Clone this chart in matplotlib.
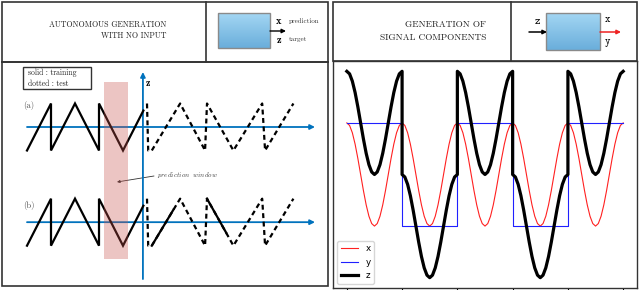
import numpy as np
import matplotlib
matplotlib.use('Agg')
import matplotlib.pyplot as plt
from matplotlib.patches import Rectangle
from matplotlib.colors import LinearSegmentedColormap

plt.rcParams['mathtext.fontset'] = 'cm'

# ---------------- data: right panel (signal components) ----------------
x_period = [1.0, 0.951, 0.809, 0.588, 0.309, 0.0, -0.309, -0.588, -0.809, -0.951, -1.0,
            -0.951, -0.809, -0.588, -0.309, 0.0, 0.309, 0.588, 0.809, 0.951, 1.0]
y_levels = [1, -1, 1, -1, 1]
period_ticks = [0, 1, 2, 3, 4, 5]
series_labels = ['x', 'y', 'z']

# ---------------- data: left schematic (sawtooth) ----------------
train_t = [-5, -4, -4, -3, -2, -2, -1, -0.15]
train_v = [-1, 1, -1, 1, -1, 1, -1, 0.7]
test_t = [0, 0.05, 0.2, 1.38, 2.42, 2.5, 3.6, 4.8, 4.92, 6.1]
test_v = [1, -1, -1, 1, -1, 1, -1, 1, -1, 1]
b_solid_t = [[0.2, 1.1], [2.5, 3.3]]
b_solid_v = [[-1, 0.53], [1, -0.45]]

W, H = 640, 290
fig = plt.figure(figsize=(6.4, 2.9), dpi=100)

# pixel-coordinate overlay for frames and headers
ax0 = fig.add_axes([0, 0, 1, 1])
ax0.set_xlim(0, W)
ax0.set_ylim(H, 0)
ax0.axis('off')

frame_c = '#333333'
# left panel frames
ax0.add_patch(Rectangle((2, 2), 326, 284, fill=False, ec=frame_c, lw=1.2))
ax0.plot([2, 328], [62, 62], color=frame_c, lw=1.4)
ax0.plot([206, 206], [2, 62], color=frame_c, lw=1.2)
# right panel header frame
ax0.add_patch(Rectangle((333, 2), 304, 59, fill=False, ec=frame_c, lw=1.2))
ax0.plot([511, 511], [2, 61], color=frame_c, lw=1.2)

# header texts
ax0.text(166, 25, 'AUTONOMOUS GENERATION', ha='right', va='center', family='cmr10', fontsize=5.7, color='#222')
ax0.text(166, 36, 'WITH NO INPUT', ha='right', va='center', family='cmr10', fontsize=5.7, color='#222')
ax0.text(486, 25, 'GENERATION OF', ha='right', va='center', family='cmr10', fontsize=6.7, color='#222')
ax0.text(486, 38, 'SIGNAL COMPONENTS', ha='right', va='center', family='cmr10', fontsize=6.7, color='#222')

# blue boxes with gradient
cmap = LinearSegmentedColormap.from_list('bx', ['#a3d6f3', '#6aaedb'])
grad = np.linspace(0, 1, 64).reshape(-1, 1)
for (x0, x1, y0, y1) in [(218, 270, 13, 48), (546, 600, 13, 50)]:
    ax0.imshow(grad, cmap=cmap, extent=(x0, x1, y1, y0), aspect='auto', origin='upper', zorder=2)
    ax0.add_patch(Rectangle((x0, y0), x1 - x0, y1 - y0, fill=False, ec='#8a8a8a', lw=1, zorder=3))
ax0.set_xlim(0, W)
ax0.set_ylim(H, 0)

# left header arrow and labels
ax0.annotate('', xy=(286, 31), xytext=(270, 31),
             arrowprops=dict(arrowstyle='-|>', color='k', lw=1, mutation_scale=6, shrinkA=0, shrinkB=0))
ax0.text(279, 21, 'x', ha='center', va='center', family='cmb10', fontsize=7.5)
ax0.text(279, 40, 'z', ha='center', va='center', family='cmb10', fontsize=7.5)
ax0.text(289, 21, 'prediction', ha='left', va='center', family='cmr10', fontsize=5, color='#333')
ax0.text(289, 39, 'target', ha='left', va='center', family='cmr10', fontsize=5, color='#333')

# right header arrows and labels
ax0.annotate('', xy=(547, 32), xytext=(529, 32),
             arrowprops=dict(arrowstyle='-|>', color='k', lw=1.1, mutation_scale=6, shrinkA=0, shrinkB=0))
ax0.annotate('', xy=(621, 32), xytext=(600, 32),
             arrowprops=dict(arrowstyle='-|>', color='#ee2222', lw=1.1, mutation_scale=6, shrinkA=0, shrinkB=0))
ax0.text(537, 22, 'z', ha='center', va='center', family='cmtt10', fontsize=7.5)
ax0.text(607, 20, 'x', ha='center', va='center', family='cmtt10', fontsize=7.5)
ax0.text(607, 42, 'y', ha='center', va='center', family='cmtt10', fontsize=7.5)

# legend box of schematic
ax0.add_patch(Rectangle((23, 67), 68, 22, fill=False, ec=frame_c, lw=1))
ax0.text(28, 73, 'solid : training', ha='left', va='center', family='cmr10', fontsize=5.5, color='#222')
ax0.text(28, 84, 'dotted : test', ha='left', va='center', family='cmr10', fontsize=5.5, color='#222')
ax0.text(29, 106, '(a)', ha='center', va='center', family='cmr10', fontsize=6.3, color='#555')
ax0.text(29, 205, '(b)', ha='center', va='center', family='cmr10', fontsize=6.3, color='#555')
ax0.text(146, 83, 'z', ha='left', va='center', family='cmb10', fontsize=7)

# prediction window annotation
ax0.text(157, 175, r'$prediction\ \ window$', ha='left', va='center', fontsize=5, color='#444')
ax0.annotate('', xy=(117, 182), xytext=(154, 176),
             arrowprops=dict(arrowstyle='-|>', color='#333', lw=0.6, mutation_scale=4, shrinkA=0, shrinkB=0))

# ---------------- schematic axes (diagram units) ----------------
axd = fig.add_axes([0, 0, 1, 1])
axd.set_xlim(-147 / 24, (W - 147) / 24)
axd.set_ylim((127 - H) / 23.5, 127 / 23.5)
axd.axis('off')
axis_blue = '#0072bd'
for off, solid_overlay in [(0.0, False), (-4.05, True)]:
    axd.annotate('', xy=(7.0, off), xytext=(-5.0, off),
                 arrowprops=dict(arrowstyle='-|>', color=axis_blue, lw=1.3, mutation_scale=7,
                                 shrinkA=0, shrinkB=0), zorder=1)
    axd.plot(train_t, np.array(train_v) + off, color='k', lw=1.6, solid_joinstyle='miter', zorder=2)
    axd.plot(test_t, np.array(test_v) + off, color='k', lw=1.6, ls=(0, (2.2, 1.6)), zorder=2)
    if solid_overlay:
        for st, sv in zip(b_solid_t, b_solid_v):
            axd.plot(st, np.array(sv) + off, color='k', lw=1.6, zorder=2)
axd.annotate('', xy=(-0.17, 2.34), xytext=(-0.17, -6.47),
             arrowprops=dict(arrowstyle='-|>', color=axis_blue, lw=1.3, mutation_scale=7,
                             shrinkA=0, shrinkB=0), zorder=1)
axd.add_patch(Rectangle((-1.79, -5.62), 1.0, 1.915 + 5.62, color='#c8504a', alpha=0.33, lw=0, zorder=3))

# ---------------- right plot ----------------
ax = fig.add_axes([333 / W, 2 / H, 304 / W, 227 / H])
t_period = np.linspace(0, 1, len(x_period))
t_all = np.concatenate([k + t_period for k in range(len(y_levels))])
x_all = np.tile(x_period, len(y_levels))
y_all = np.repeat(y_levels, len(x_period)).astype(float)
z_all = x_all + y_all
ax.plot(t_all, x_all, color='#ff2020', lw=0.8, label=series_labels[0])
ax.plot(t_all, y_all, color='#2020ff', lw=0.8, label=series_labels[1])
ax.plot(t_all, z_all, color='k', lw=2.3, label=series_labels[2])
ax.set_xticks(period_ticks)
ax.set_yticks([])
ax.tick_params(axis='x', length=3, direction='out', labelbottom=False)
for s in ax.spines.values():
    s.set_color(frame_c)
    s.set_linewidth(1.0)
ax.legend(loc='lower left', fontsize=6.3)

fig.savefig('out.png', dpi=100)
